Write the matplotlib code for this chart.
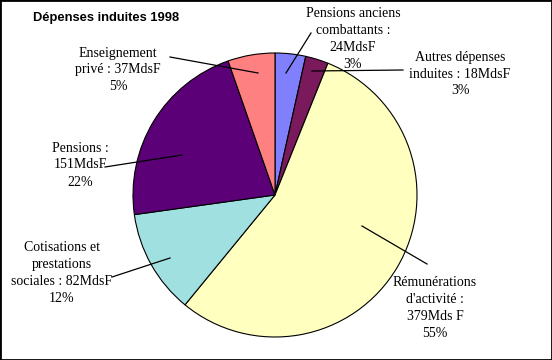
import matplotlib.pyplot as plt
from matplotlib.patches import Rectangle

# values in MdsF, clockwise from 12 o'clock
labels = ["Pensions anciens\ncombattants :\n24MdsF\n3%",
          "Autres dépenses\ninduites : 18MdsF\n3%",
          "Rémunérations\nd'activité :\n379Mds F\n55%",
          "Cotisations et\nprestations\nsociales : 82MdsF\n12%",
          "Pensions :\n151MdsF\n22%",
          "Enseignement\nprivé : 37MdsF\n5%"]
values = [24, 18, 379, 82, 151, 37]
colors = ["#8080FF", "#7A1A5C", "#FFFFC0", "#A0E0E0", "#5C0078", "#FF8080"]

# label centres and leader lines in pixel coords (top-left origin)
label_xy = [(353, 39), (460, 74), (435, 308), (62, 273), (80, 165), (118, 70)]
leader = [((286, 73), (311, 33)), ((312, 71), (403, 70)), ((362, 226), (427, 264)),
          ((170, 258), (112, 277)), ((182, 155), (105, 167)), ((258, 73), (170, 57))]

W, H = 552, 360
fig = plt.figure(figsize=(W / 100, H / 100), dpi=100)
ax = fig.add_axes([0, 0, 1, 1])

ax.pie(values, colors=colors, startangle=90, counterclock=False,
       center=(275, H - 195), radius=142,
       wedgeprops=dict(edgecolor="black", linewidth=0.8))
ax.set_xlim(0, W)
ax.set_ylim(0, H)
ax.set_aspect("auto")
ax.axis("off")

for (p0, p1) in leader:
    ax.plot([p0[0], p1[0]], [H - p0[1], H - p1[1]], color="black", lw=0.9)

for txt, (x, y) in zip(labels, label_xy):
    ax.text(x, H - y, txt, ha="center", va="center", fontsize=10,
            family="Liberation Serif", linespacing=1.4)

ax.text(33, H - 18, "Dépenses induites 1998", ha="left", va="center",
        fontsize=9.3, fontweight="bold", family="Liberation Sans")

fig.patches.append(Rectangle((0, 0), 1, 1, transform=fig.transFigure,
                             fill=False, edgecolor="black", linewidth=2))

fig.savefig("out.png", dpi=100)
